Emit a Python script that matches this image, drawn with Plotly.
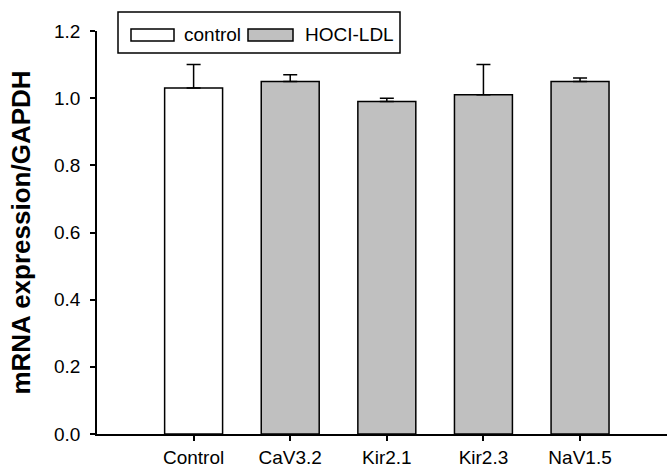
import plotly.graph_objects as go

categories = ["Control", "CaV3.2", "Kir2.1", "Kir2.3", "NaV1.5"]
means = [1.03, 1.05, 0.99, 1.01, 1.05]
errors = [0.07, 0.02, 0.01, 0.09, 0.01]
groups = ["control", "HOCI-LDL", "HOCI-LDL", "HOCI-LDL", "HOCI-LDL"]
group_names = ["control", "HOCI-LDL"]
group_colors = {"control": "#ffffff", "HOCI-LDL": "#c0c0c0"}
y_ticks = [0.0, 0.2, 0.4, 0.6, 0.8, 1.0, 1.2]

W, H = 667, 468
L, R, T, B = 97, 0, 31, 34
FONT = "Liberation Sans, Arial, sans-serif"

fig = go.Figure()
for g in group_names:
    xs = [c for c, gg in zip(categories, groups) if gg == g]
    ys = [m for m, gg in zip(means, groups) if gg == g]
    es = [e for e, gg in zip(errors, groups) if gg == g]
    fig.add_trace(go.Bar(
        x=xs, y=ys, name=g, width=0.6,
        marker=dict(color=group_colors[g], line=dict(color="#000000", width=1.5)),
        error_y=dict(type="data", array=es, arrayminus=[0] * len(es), symmetric=False,
                     color="#000000", thickness=1.5, width=7),
        showlegend=False,
    ))

pw, ph = W - L - R, H - T - B
def px(x):
    return (x - L) / pw
def py(y):
    return (H - B - y) / ph

shapes = [
    dict(type="rect", xref="paper", yref="paper", x0=px(118), x1=px(400), y0=py(53), y1=py(12),
         line=dict(color="#000000", width=1.5), fillcolor="rgba(0,0,0,0)"),
    dict(type="rect", xref="paper", yref="paper", x0=px(131), x1=px(174), y0=py(41), y1=py(29),
         line=dict(color="#000000", width=1.5), fillcolor=group_colors["control"]),
    dict(type="rect", xref="paper", yref="paper", x0=px(248), x1=px(293), y0=py(41), y1=py(29),
         line=dict(color="#000000", width=1.5), fillcolor=group_colors["HOCI-LDL"]),
]
annotations = [
    dict(text=group_names[0], xref="paper", yref="paper", x=px(182), y=py(35), xanchor="left",
         yanchor="middle", showarrow=False, font=dict(family=FONT, size=19, color="#000000")),
    dict(text=group_names[1], xref="paper", yref="paper", x=px(303), y=py(35), xanchor="left",
         yanchor="middle", showarrow=False, font=dict(family=FONT, size=19, color="#000000")),
]

fig.update_layout(
    width=W, height=H,
    margin=dict(l=L, r=R, t=T, b=B),
    paper_bgcolor="#ffffff", plot_bgcolor="#ffffff",
    barmode="overlay",
    font=dict(family=FONT, size=19, color="#000000"),
    shapes=shapes, annotations=annotations,
    xaxis=dict(range=[-1, 4.9], showline=True, linecolor="#000000", linewidth=1.5,
               ticks="outside", ticklen=5, tickwidth=1.5, tickcolor="#000000",
               showgrid=False, zeroline=False, automargin=False,
               tickfont=dict(family=FONT, size=19)),
    yaxis=dict(range=[0, 1.2], tickvals=y_ticks, tickformat=".1f", showline=True,
               linecolor="#000000", linewidth=1.5, ticks="outside", ticklen=5, tickwidth=1.5,
               tickcolor="#000000", showgrid=False, zeroline=False, automargin=False,
               ticklabelstandoff=6,
               tickfont=dict(family=FONT, size=19),
               title=dict(text="<b>mRNA expression/GAPDH</b>", standoff=16,
                          font=dict(family=FONT, size=26))),
)

fig.write_html("out.html")
